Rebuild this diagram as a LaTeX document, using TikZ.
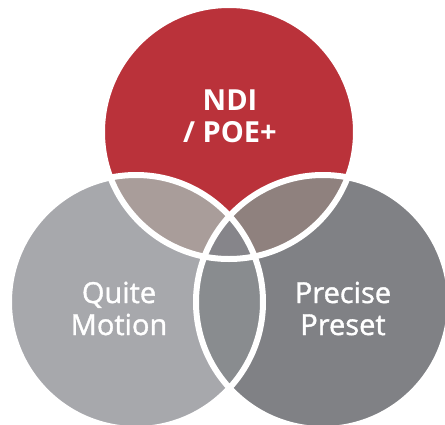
\documentclass[tikz,border=0pt]{standalone}
\usepackage{fontspec}
\setmainfont{Open Sans}
\newfontfamily\semifont{Open Sans}[FakeBold=1.3]
\definecolor{ndired}{HTML}{BA323A}
\definecolor{quitegray}{HTML}{A7A8AC}
\definecolor{presetgray}{HTML}{808185}
\definecolor{tlgray}{HTML}{A99D9A}
\definecolor{trgray}{HTML}{8F817E}
\definecolor{lensgray}{HTML}{898C8F}
\definecolor{midgray}{HTML}{86858A}
\tikzset{
  vlabel/.style={text=white, align=center, anchor=base,
    font=\fontsize{29}{32}\selectfont},
  ring/.style={draw=white, line width=6}
}
\begin{document}
\begin{tikzpicture}[x=1pt,y=-1pt]
        \useasboundingbox (0,0) rectangle (445,424);
        \clip (0,0) rectangle (445,424);
        \coordinate (top) at (229,132);
        \coordinate (left) at (136,302);
        \coordinate (right) at (323,302);
        % the three sets
        \fill [ndired] (top) circle [radius = 127];
        \fill [quitegray] (left) circle [radius = 127];
        \fill [presetgray] (right) circle [radius = 127];
        % overlaps
        \begin{scope}
          \clip (top) circle [radius = 127];
          \fill [tlgray] (left) circle [radius = 127];
          \fill [trgray] (right) circle [radius = 127];
        \end{scope}
        \begin{scope}
          \clip (left) circle [radius = 127];
          \fill [lensgray] (right) circle [radius = 127];
          \clip (top) circle [radius = 127];
          \fill [midgray] (right) circle [radius = 127];
        \end{scope}
        \draw [ring] (top) circle [radius = 127];
        \draw [ring] (left) circle [radius = 127];
        \draw [ring] (right) circle [radius = 127];
        % labels (anchor base = last line)
        \node [vlabel] (ndi) at (230,142) {\bfseries NDI\\\bfseries / POE+};
        \node [vlabel] (quite) at (119,335) {\semifont Quite\\\semifont Motion};
        \node [vlabel] (precise) at (343,335) {\semifont Precise\\\semifont Preset};
\end{tikzpicture}
\end{document}
